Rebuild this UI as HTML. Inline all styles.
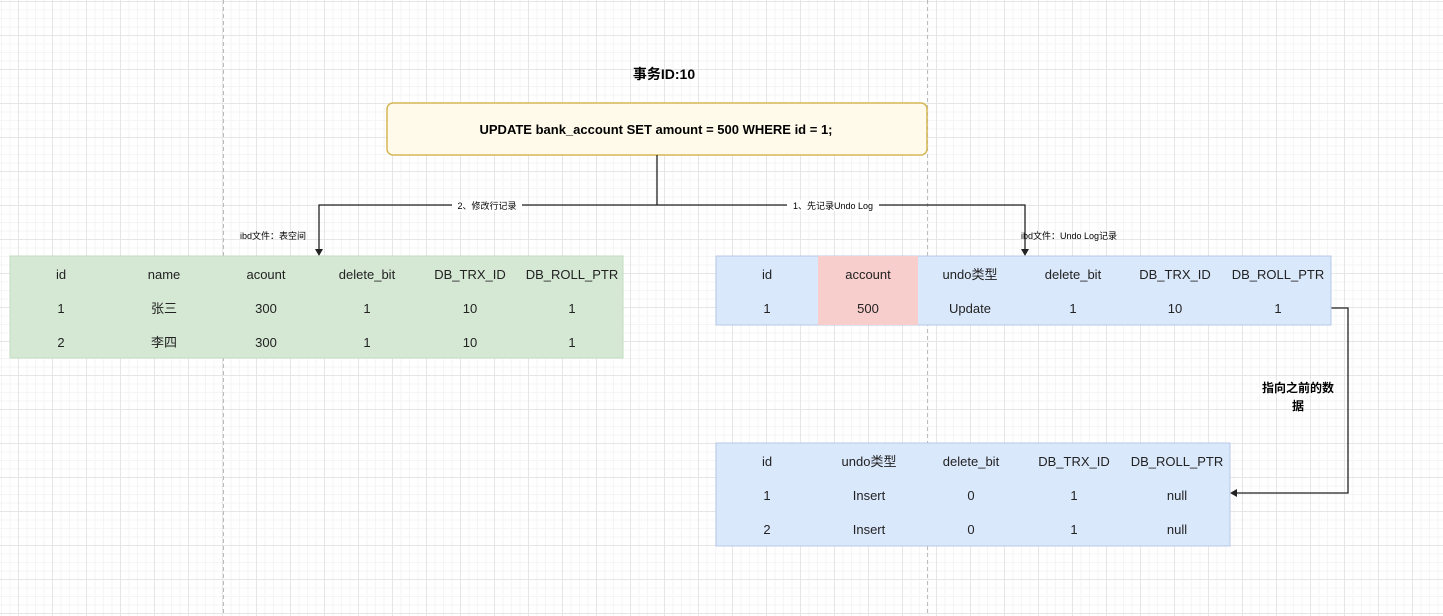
<!DOCTYPE html>
<html><head><meta charset="utf-8"><style>
html,body{margin:0;padding:0;}
body{width:1443px;height:616px;overflow:hidden;background:#fff;position:relative;font-family:"Liberation Sans","Noto Sans CJK SC",sans-serif;}
.grid{position:absolute;left:0;top:0;width:1443px;height:616px;
background-image:
linear-gradient(to right,#e6e6e6 1px,transparent 1px),
linear-gradient(to bottom,#e6e6e6 1px,transparent 1px),
linear-gradient(to right,#f5f5f5 1px,transparent 1px),
linear-gradient(to bottom,#f5f5f5 1px,transparent 1px);
background-size:34px 34px,34px 34px,8.5px 8.5px,8.5px 8.5px;
background-position:18px 1px,18px 1px,18px 1px,18px 1px;}
svg{position:absolute;left:0;top:0;}
text{font-family:"Liberation Sans","Noto Sans CJK SC",sans-serif;}
</style></head><body>
<div class="grid"></div>
<svg width="1443" height="616" viewBox="0 0 1443 616">
<line x1="223.5" y1="0" x2="223.5" y2="616" stroke="#bbb" stroke-dasharray="4,3"/>
<line x1="927.5" y1="0" x2="927.5" y2="616" stroke="#bbb" stroke-dasharray="4,3"/>

<text x="664" y="79" font-size="14" font-weight="bold" text-anchor="middle">事务ID:10</text>
<rect x="387" y="103" width="540" height="52" rx="6" fill="#fffaea" stroke="#d6b656" stroke-width="1.5"/>
<text x="656" y="134" font-size="13" font-weight="bold" text-anchor="middle">UPDATE bank_account SET  amount = 500 WHERE id = 1;</text>

<g stroke="#222" stroke-width="1.3" fill="none">
<polyline points="657,155 657,205"/>
<polyline points="319,250 319,205 1025,205 1025,250"/>
<polyline points="1331,308 1348,308 1348,493 1236,493"/>
</g>
<g fill="#222">
<polygon points="315,249 323,249 319,256"/>
<polygon points="1021,249 1029,249 1025,256"/>
<polygon points="1237,489 1237,497 1230,493"/>
</g>
<rect x="452" y="200" width="70" height="11" fill="#fff"/>
<text x="487" y="209" font-size="9" text-anchor="middle">2、修改行记录</text>
<rect x="787" y="200" width="92" height="11" fill="#fff"/>
<text x="833" y="209" font-size="9" text-anchor="middle">1、先记录Undo Log</text>
<text x="273" y="239" font-size="9" text-anchor="middle">ibd文件：表空间</text>
<text x="1069" y="239" font-size="9" text-anchor="middle">ibd文件：Undo Log记录</text>
<text x="1298" y="392" font-size="12" font-weight="bold" text-anchor="middle">指向之前的数</text>
<text x="1298" y="410" font-size="12" font-weight="bold" text-anchor="middle">据</text>

<rect x="10" y="256" width="613" height="102" fill="#d5e8d4" stroke="#c2dcc0"/>
<g font-size="13" text-anchor="middle" fill="#222">
<text x="61" y="279">id</text><text x="164" y="279">name</text><text x="266" y="279">acount</text><text x="367" y="279">delete_bit</text><text x="470" y="279">DB_TRX_ID</text><text x="572" y="279">DB_ROLL_PTR</text>
<text x="61" y="313">1</text><text x="164" y="313">张三</text><text x="266" y="313">300</text><text x="367" y="313">1</text><text x="470" y="313">10</text><text x="572" y="313">1</text>
<text x="61" y="347">2</text><text x="164" y="347">李四</text><text x="266" y="347">300</text><text x="367" y="347">1</text><text x="470" y="347">10</text><text x="572" y="347">1</text>
</g>

<rect x="716" y="256" width="615" height="69" fill="#dae8fc" stroke="#b8c9e8"/>
<rect x="818" y="256" width="100" height="69" fill="#f8cecc"/>
<g font-size="13" text-anchor="middle" fill="#222">
<text x="767" y="279">id</text><text x="868" y="279">account</text><text x="970" y="279">undo类型</text><text x="1073" y="279">delete_bit</text><text x="1175" y="279">DB_TRX_ID</text><text x="1278" y="279">DB_ROLL_PTR</text>
<text x="767" y="313">1</text><text x="868" y="313">500</text><text x="970" y="313">Update</text><text x="1073" y="313">1</text><text x="1175" y="313">10</text><text x="1278" y="313">1</text>
</g>

<rect x="716" y="443" width="514" height="103" fill="#dae8fc" stroke="#b8c9e8"/>
<g font-size="13" text-anchor="middle" fill="#222">
<text x="767" y="466">id</text><text x="869" y="466">undo类型</text><text x="971" y="466">delete_bit</text><text x="1074" y="466">DB_TRX_ID</text><text x="1177" y="466">DB_ROLL_PTR</text>
<text x="767" y="500">1</text><text x="869" y="500">Insert</text><text x="971" y="500">0</text><text x="1074" y="500">1</text><text x="1177" y="500">null</text>
<text x="767" y="534">2</text><text x="869" y="534">Insert</text><text x="971" y="534">0</text><text x="1074" y="534">1</text><text x="1177" y="534">null</text>
</g>
</svg>
</body></html>
